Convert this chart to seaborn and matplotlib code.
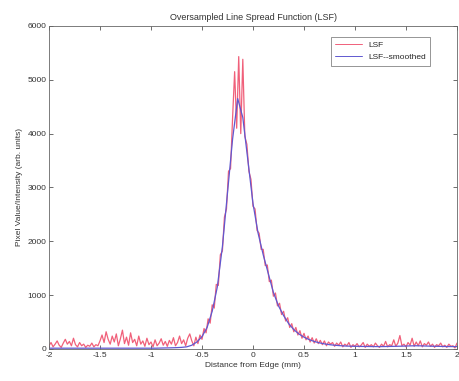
import numpy as np
import pandas as pd
import matplotlib
matplotlib.use("Agg")
import matplotlib.pyplot as plt
import seaborn as sns

# raw (noisy) LSF sampled every 0.02 mm from -2 to 2
lsf_left = [60, 120, 40, 90, 150, 70, 30, 110, 180, 90,
            140, 60, 200, 80, 40, 120, 60, 90, 30, 70,
            50, 110, 40, 80, 60, 150, 260, 120, 320, 180,
            90, 240, 130, 280, 60, 190, 350, 100, 220, 70,
            300, 120, 180, 60, 240, 90, 150, 50, 200, 80,
            130, 40, 170, 60, 110, 190, 70, 140, 50, 160,
            90, 210, 60, 120, 240, 100, 170, 60, 200, 280]
lsf_peak = [150, 60, 220, 100, 260, 180, 380, 300, 560, 480,
            820, 760, 1200, 1180, 1750, 1820, 2450, 2600, 3300, 3350,
            4300, 5150, 4100, 5430, 4000, 5380, 3950, 3800, 3300, 3150,
            2650, 2600, 2200, 2150, 1850, 1850, 1550, 1560, 1250, 1280,
            980, 1040, 800, 850, 640, 700, 520, 580, 400, 470,
            320, 400, 260, 340, 200, 290, 170, 240, 130, 210, 110]
lsf_right = [190, 100, 160, 80, 150, 60, 130, 90, 120, 50,
             110, 70, 130, 40, 90, 60, 120, 30, 80, 50,
             100, 40, 70, 120, 30, 90, 50, 80, 40, 110,
             60, 30, 90, 50, 140, 40, 80, 60, 170, 50,
             110, 250, 60, 90, 40, 120, 70, 200, 50, 130,
             60, 150, 40, 100, 70, 130, 50, 90, 30, 80,
             60, 110, 40, 70, 30, 90, 50, 60, 20, 110]
lsf_raw = lsf_left + lsf_peak + lsf_right
x_raw = np.linspace(-2, 2, len(lsf_raw))

# smoothed LSF sampled every 0.05 mm
lsf_smooth = [15, 15, 15, 15, 15, 15, 15, 15, 15, 15,
              15, 15, 15, 15, 15, 15, 15, 15, 15, 15,
              15, 15, 18, 20, 22, 25, 30,
              40, 70, 130, 230, 400, 700, 1150, 1900, 2900, 3900, 4650, 4300, 3500,
              2700, 2150, 1750, 1400, 1050, 800, 620, 470, 360, 280, 220,
              175, 140, 115, 95, 80, 70, 62, 56, 52, 50,
              48, 47, 46, 45, 45, 46, 48, 50, 52, 55,
              58, 60, 58, 55, 52, 50, 48, 46, 45, 45]
x_smooth = np.linspace(-2, 2, len(lsf_smooth))

df = pd.concat([
    pd.DataFrame({"x": x_raw, "y": lsf_raw, "series": "LSF"}),
    pd.DataFrame({"x": x_smooth, "y": lsf_smooth, "series": "LSF--smoothed"}),
], ignore_index=True)

sns.set_style("ticks")
plt.rcParams["font.family"] = ["Liberation Sans", "DejaVu Sans"]

fig = plt.figure(figsize=(4.6, 3.81), dpi=100)
ax = fig.add_axes([0.1065, 0.084, 0.887, 0.848])

sns.lineplot(data=df, x="x", y="y", hue="series",
             palette={"LSF": "#f0607a", "LSF--smoothed": "#6058d0"},
             linewidth=0.9, ax=ax, estimator=None, sort=False)

ax.set_xlim(-2, 2)
ax.set_ylim(0, 6000)
ax.set_xticks([-2, -1.5, -1, -0.5, 0, 0.5, 1, 1.5, 2])
ax.set_xticklabels(["-2", "-1.5", "-1", "-0.5", "0", "0.5", "1", "1.5", "2"])
ax.set_yticks([0, 1000, 2000, 3000, 4000, 5000, 6000])
ax.tick_params(direction="in", top=True, right=True, labelsize=6, length=3,
               width=0.5, colors="#333333", pad=2)
for s in ax.spines.values():
    s.set_linewidth(0.6)
    s.set_color("#666666")

ax.set_title("Oversampled Line Spread Function (LSF)", fontsize=6.5, pad=4,
             color="#333333")
ax.set_xlabel("Distance from Edge (mm)", fontsize=6, labelpad=2, color="#333333")
ax.set_ylabel("Pixel Value/Intensity (arb. units)", fontsize=6, labelpad=3,
              color="#333333")

leg = ax.legend(loc="upper right", bbox_to_anchor=(0.945, 0.98), fontsize=6,
                frameon=True, fancybox=False, edgecolor="#666666",
                handlelength=3.2, borderpad=0.5, labelspacing=0.6)
leg.get_frame().set_linewidth(0.6)
for line in leg.get_lines():
    line.set_linewidth(0.7)

fig.savefig("out.png", dpi=100)
